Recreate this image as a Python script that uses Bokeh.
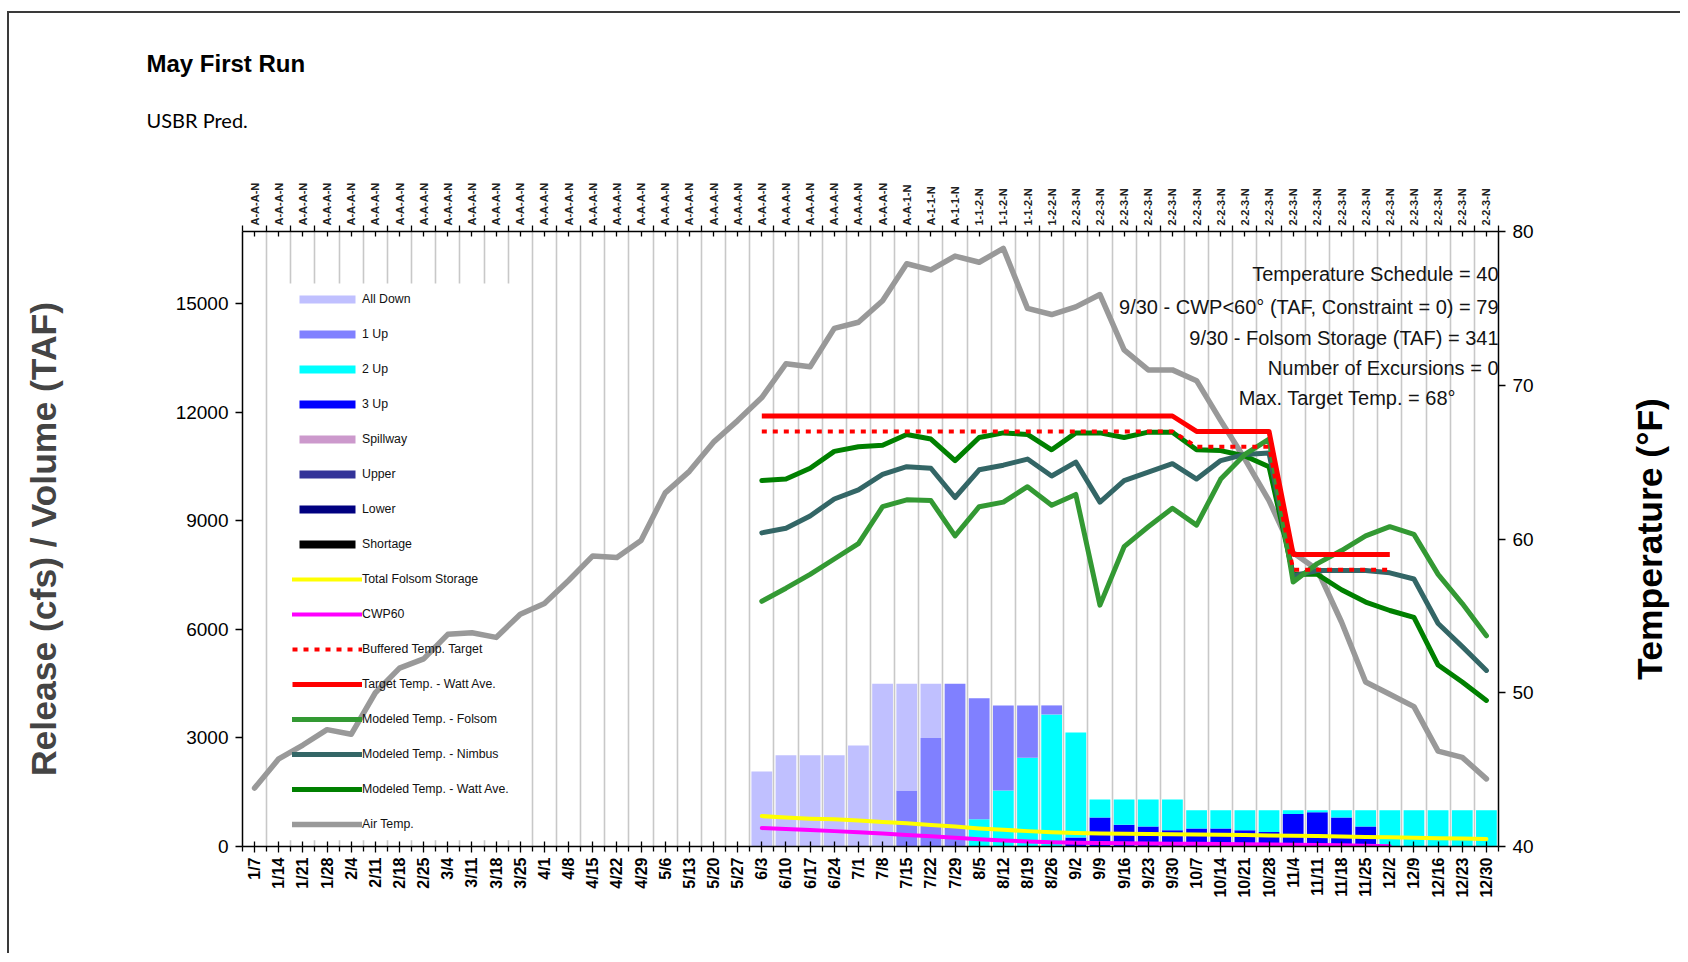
import math
from bokeh.plotting import figure
from bokeh.models import (Range1d, LinearAxis, FixedTicker, Label, Legend, LegendItem,
                          ColumnDataSource, BoxAnnotation, Title)
from bokeh.embed import file_html
from bokeh.resources import INLINE

# ---------------- data ----------------
weeks = ["1/7", "1/14", "1/21", "1/28", "2/4", "2/11", "2/18", "2/25", "3/4", "3/11", "3/18", "3/25",
         "4/1", "4/8", "4/15", "4/22", "4/29", "5/6", "5/13", "5/20", "5/27", "6/3", "6/10", "6/17",
         "6/24", "7/1", "7/8", "7/15", "7/22", "7/29", "8/5", "8/12", "8/19", "8/26", "9/2", "9/9",
         "9/16", "9/23", "9/30", "10/7", "10/14", "10/21", "10/28", "11/4", "11/11", "11/18", "11/25",
         "12/2", "12/9", "12/16", "12/23", "12/30"]

units = (["A-A-A-N"] * 27 + ["A-A-1-N"] + ["A-1-1-N"] * 2 + ["1-1-2-N"] * 3 + ["1-2-2-N"]
         + ["2-2-3-N"] * 18)

# releases (cfs), stacked
all_down = [0] * 21 + [2070, 2520, 2520, 2520, 2790, 4500, 2950, 1500] + [0] * 23
one_up = [0] * 27 + [1550, 3000, 4500, 3350, 2350, 1450, 250] + [0] * 18
two_up = [0] * 30 + [750, 1550, 2450, 3650, 2900, 500, 700, 750, 850, 500, 500, 550, 600,
                     100, 50, 200, 450, 1000, 1000, 1000, 1000, 1000]
three_up = [0] * 34 + [250, 800, 600, 550, 450, 500, 500, 450, 400, 900, 950, 800, 550] + [0] * 5
spillway = [0] * 52
upper = [0] * 52
lower = [0] * 52
shortage = [0] * 52

# volumes (TAF) from 6/3
storage = [840, 800, 770, 750, 720, 680, 640, 595, 550, 500, 460, 425, 395, 375, 362, 353, 347,
           341, 333, 325, 316, 306, 296, 287, 277, 265, 253, 242, 230, 218, 206]
cwp60 = [510, 485, 455, 425, 395, 360, 320, 280, 240, 200, 165, 140, 120, 105, 95, 88, 83, 79,
         74, 69, 63, 57, 50, 42, 32, 20, 5]

# temperatures (deg F)
air_temp = [43.8, 45.7, 46.6, 47.6, 47.3, 50.0, 51.6, 52.2, 53.8, 53.9, 53.6, 55.1, 55.8, 57.3,
            58.9, 58.8, 59.9, 63.0, 64.4, 66.3, 67.7, 69.2, 71.4, 71.2, 73.7, 74.1, 75.5, 77.9,
            77.5, 78.4, 78.0, 78.9, 75.0, 74.6, 75.1, 75.9, 72.3, 71.0, 71.0, 70.3, 67.7, 65.2,
            62.5, 59.1, 58.0, 54.6, 50.7, 49.9, 49.1, 46.2, 45.8, 44.4]
folsom = [55.95, 56.8, 57.7, 58.7, 59.7, 62.1, 62.55, 62.5, 60.2, 62.1, 62.4, 63.4, 62.2, 62.9,
          55.7, 59.5, 60.8, 62.0, 60.9, 63.9, 65.5, 66.5, 57.2, 58.4, 59.25, 60.2, 60.8, 60.3,
          57.7, 55.8, 53.7]
nimbus = [60.4, 60.7, 61.5, 62.6, 63.2, 64.2, 64.7, 64.6, 62.7, 64.5, 64.8, 65.2, 64.1, 65.0,
          62.4, 63.8, 64.35, 64.9, 63.9, 65.1, 65.5, 65.6, 57.6, 57.95, 57.95, 57.95, 57.8, 57.4,
          54.5, 53.0, 51.45]
watt = [63.8, 63.9, 64.6, 65.7, 66.0, 66.1, 66.8, 66.5, 65.1, 66.6, 66.9, 66.8, 65.8, 66.9,
        66.9, 66.6, 66.95, 66.95, 65.8, 65.75, 65.4, 64.7, 57.7, 57.7, 56.7, 55.9, 55.35, 54.9,
        51.8, 50.7, 49.5]
target = [68, 68, 68, 68, 68, 68, 68, 68, 68, 68, 68, 68, 68, 68, 68, 68, 68, 68,
          67, 67, 67, 67, 59, 59, 59, 59, 59]
buffered = [67, 67, 67, 67, 67, 67, 67, 67, 67, 67, 67, 67, 67, 67, 67, 67, 67, 67,
            66, 66, 66, 66, 58, 58, 58, 58, 58]

notes = ["Temperature Schedule = 40", "9/30 - CWP<60\u00b0 (TAF, Constraint = 0) = 79",
         "9/30 - Folsom Storage (TAF) = 341", "Number of Excursions = 0",
         "Max. Target Temp. = 68\u00b0"]

first_model = weeks.index("6/3")

# ---------------- figure ----------------
FONT = "Liberation Sans"
xs = list(range(len(weeks)))

p = figure(title=None, frame_width=1256, frame_height=615,
           min_border_left=233, min_border_right=182, min_border_top=218, min_border_bottom=107,
           x_range=Range1d(-0.5, len(weeks) - 0.5), y_range=Range1d(0, 17000),
           output_backend="svg", toolbar_location=None,
           background_fill_color="white", border_fill_color="white", outline_line_color=None)
p.extra_y_ranges = {"temp": Range1d(40, 80)}
p.styles = {"border-top": "2px solid #3a3a3a", "border-left": "2px solid #3a3a3a",
            "margin-top": "11px", "margin-left": "7px"}

# grid: vertical lines on week boundaries
p.ygrid.visible = False
p.xgrid.ticker = FixedTicker(ticks=[i + 0.5 for i in xs[:-1]])
p.xgrid.grid_line_color = "#c8c8c8"
p.xgrid.grid_line_width = 1.6

# bottom axis
xa = p.xaxis[0]
xa.ticker = FixedTicker(ticks=xs, minor_ticks=[i - 0.5 for i in xs] + [xs[-1] + 0.5])
xa.major_label_overrides = {i: w for i, w in zip(xs, weeks)}
xa.major_label_orientation = math.pi / 2
xa.major_label_text_font = FONT
xa.major_label_text_font_style = "bold"
xa.major_label_text_font_size = "16px"
xa.major_label_text_color = "black"
xa.major_label_standoff = 5
xa.axis_line_width = 1.5
xa.axis_line_color = "black"
xa.major_tick_in = 5
xa.major_tick_out = 6
xa.minor_tick_in = 0
xa.minor_tick_out = 5
xa.major_tick_line_width = 1.3
xa.minor_tick_line_width = 1.3

# top axis
ta = LinearAxis(ticker=FixedTicker(ticks=xs, minor_ticks=[i - 0.5 for i in xs] + [xs[-1] + 0.5]))
ta.major_label_overrides = {i: u for i, u in zip(xs, units)}
ta.major_label_orientation = math.pi / 2
ta.major_label_text_font = FONT
ta.major_label_text_font_style = "bold"
ta.major_label_text_font_size = "11px"
ta.major_label_text_color = "#222222"
ta.major_label_standoff = 0
ta.axis_line_width = 1.5
ta.axis_line_color = "black"
ta.major_tick_in = 5
ta.major_tick_out = 0
ta.minor_tick_in = 0
ta.minor_tick_out = 6
ta.major_tick_line_width = 1.3
ta.minor_tick_line_width = 1.3
p.add_layout(ta, "above")

# titles (stacked outward above the top axis, with a blank spacer first)
has_standoff = "standoff" in Title.properties()
spacer = Title(text=" ", align="left", text_font=FONT, text_font_size="10px")
sub = Title(text="USBR Pred.", align="left", offset=-96, text_font="Lato",
            text_font_size="20px", text_font_style="normal", text_color="black")
main = Title(text="May First Run", align="left", offset=-96, text_font=FONT,
             text_font_size="24px", text_font_style="bold", text_color="black")
if has_standoff:
    spacer.standoff = 21
    sub.standoff = 28
    main.standoff = 29
p.add_layout(spacer, "above")
p.add_layout(sub, "above")
p.add_layout(main, "above")

# left axis
ya = p.yaxis[0]
ya.ticker = FixedTicker(ticks=[0, 3000, 6000, 9000, 12000, 15000])
ya.axis_label = "Release (cfs) / Volume (TAF)"
ya.axis_label_text_font = FONT
ya.axis_label_text_font_style = "bold"
ya.axis_label_text_font_size = "35.5px"
ya.axis_label_standoff = 109
ya.major_label_text_font = FONT
ya.major_label_text_font_size = "19px"
ya.major_label_text_color = "black"
ya.major_label_standoff = 7
ya.axis_line_width = 1.5
ya.axis_line_color = "black"
ya.major_tick_in = 0
ya.major_tick_out = 7
ya.major_tick_line_width = 1.3
ya.minor_tick_line_color = None

# right axis
ra = LinearAxis(y_range_name="temp", ticker=FixedTicker(ticks=[40, 50, 60, 70, 80]))
ra.major_label_text_font = FONT
ra.major_label_text_font_size = "19px"
ra.major_label_text_color = "black"
ra.major_label_standoff = 7
ra.axis_line_width = 1.5
ra.axis_line_color = "black"
ra.major_tick_in = 0
ra.major_tick_out = 7
ra.major_tick_line_width = 1.3
ra.minor_tick_line_color = None
p.add_layout(ra, "right")

# right axis title, reading bottom-to-top like the left one
p.add_layout(Label(x=113.5, y=307.5, x_units="screen", y_units="screen",
                   text="Temperature (\u00b0F)", angle=math.pi / 2,
                   text_align="center", text_baseline="middle", text_font=FONT,
                   text_font_style="bold", text_font_size="35.5px", text_color="black"),
             "right")

# white backing behind the legend (hides grid lines, lines stay on top)
p.add_layout(BoxAnnotation(left=1.0, right=11.1, bottom=170, top=15560,
                           fill_color="white", fill_alpha=1.0, line_color=None,
                           level="underlay"))

# ---------------- bars ----------------
bar_src = ColumnDataSource(dict(x=xs, three_up=three_up, two_up=two_up, one_up=one_up,
                                all_down=all_down, spillway=spillway, upper=upper,
                                lower=lower, shortage=shortage))
stack_names = ["three_up", "two_up", "one_up", "all_down", "spillway", "upper", "lower", "shortage"]
stack_colors = ["#0000FF", "#00FFFF", "#8080FF", "#C0C0FF", "#CC99CC", "#333399", "#000080", "#000000"]
bar_r = p.vbar_stack(stack_names, x="x", width=0.86, source=bar_src, color=stack_colors,
                     line_color=None)
bar_map = dict(zip(stack_names, bar_r))

# ---------------- lines ----------------
xm = xs[first_model:]
xt = xs[first_model:first_model + len(target)]
xc = xs[first_model:first_model + len(cwp60)]

r_air = p.line(xs, air_temp, y_range_name="temp", line_color="#999999", line_width=5.5,
               line_join="round", line_cap="round")
r_watt = p.line(xm, watt, y_range_name="temp", line_color="#008000", line_width=5,
                line_join="round", line_cap="round")
r_nimbus = p.line(xm, nimbus, y_range_name="temp", line_color="#336666", line_width=5,
                  line_join="round", line_cap="round")
r_folsom = p.line(xm, folsom, y_range_name="temp", line_color="#339933", line_width=5,
                  line_join="round", line_cap="round")
r_target = p.line(xt, target, y_range_name="temp", line_color="#FF0000", line_width=5,
                  line_join="round")
r_buff = p.line(xt, buffered, y_range_name="temp", line_color="#FF0000", line_width=4,
                line_dash="5 6")
r_cwp = p.line(xc, cwp60, line_color="#FF00FF", line_width=4, line_join="round",
               line_cap="round")
r_stor = p.line(xm, storage, line_color="#FFFF00", line_width=4, line_join="round",
                line_cap="round")

# ---------------- legend ----------------
items = [
    LegendItem(label="All Down", renderers=[bar_map["all_down"]]),
    LegendItem(label="1 Up", renderers=[bar_map["one_up"]]),
    LegendItem(label="2 Up", renderers=[bar_map["two_up"]]),
    LegendItem(label="3 Up", renderers=[bar_map["three_up"]]),
    LegendItem(label="Spillway", renderers=[bar_map["spillway"]]),
    LegendItem(label="Upper", renderers=[bar_map["upper"]]),
    LegendItem(label="Lower", renderers=[bar_map["lower"]]),
    LegendItem(label="Shortage", renderers=[bar_map["shortage"]]),
    LegendItem(label="Total Folsom Storage", renderers=[r_stor]),
    LegendItem(label="CWP60", renderers=[r_cwp]),
    LegendItem(label="Buffered Temp. Target", renderers=[r_buff]),
    LegendItem(label="Target Temp. - Watt Ave.", renderers=[r_target]),
    LegendItem(label="Modeled Temp. - Folsom", renderers=[r_folsom]),
    LegendItem(label="Modeled Temp. - Nimbus", renderers=[r_nimbus]),
    LegendItem(label="Modeled Temp. - Watt Ave.", renderers=[r_watt]),
    LegendItem(label="Air Temp.", renderers=[r_air]),
]
legend = Legend(items=items, location=(50, 15), orientation="vertical",
                glyph_width=70, glyph_height=10, label_height=10, label_standoff=0,
                spacing=21, padding=12, margin=0,
                background_fill_alpha=0.0, border_line_color=None,
                label_text_font=FONT, label_text_font_size="12.3px",
                label_text_color="#111111")
p.add_layout(legend)

# ---------------- annotations ----------------
note_y = [77.24, 75.07, 73.1, 71.15, 69.14]
note_x = [51.5, 51.5, 51.5, 51.5, 49.75]
for t, yv, xv in zip(notes, note_y, note_x):
    p.add_layout(Label(x=xv, y=yv, y_range_name="temp", text=t, text_align="right",
                       text_baseline="middle", text_font=FONT, text_font_size="20px",
                       text_color="#141414"))

open("out.html", "w").write(file_html(p, INLINE))
